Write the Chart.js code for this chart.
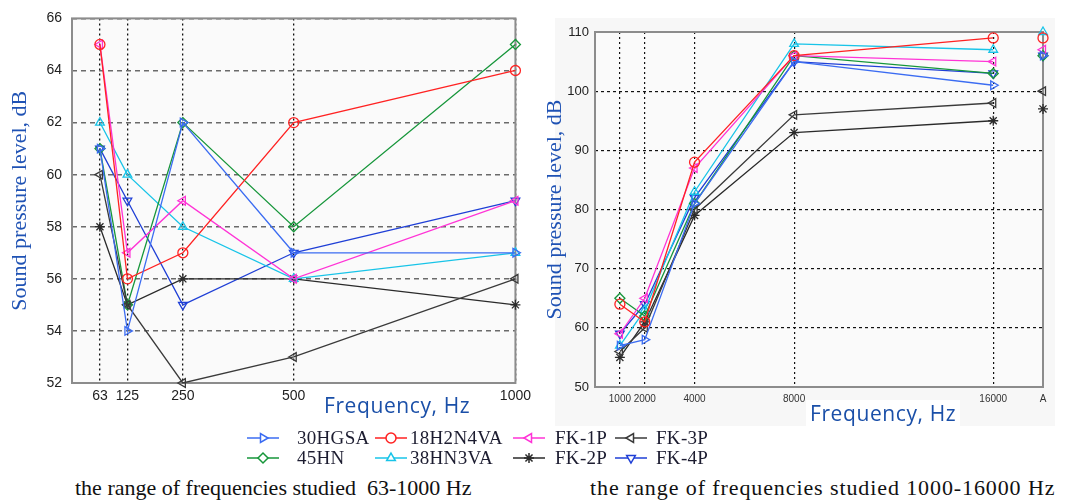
<!DOCTYPE html>
<html>
<head>
<meta charset="utf-8">
<script src="https://cdn.jsdelivr.net/npm/chart.js@4.4.0/dist/chart.umd.min.js"></script>
<style>
  body { margin: 0; width: 1067px; height: 502px; background: #fff; position: relative; overflow: hidden; font-family: "Liberation Serif", "Times New Roman", serif; }
  #lowBox { position: absolute; left: 0; top: 0; width: 536px; height: 420px; }
  #highBox { position: absolute; left: 535px; top: 0; width: 532px; height: 420px; }
  #highBg { position: absolute; left: 555px; top: 18px; width: 500px; height: 408px; background: #f7f7f7; }
  .xtitle { position: absolute; font-family: "Open Sans", "DejaVu Sans", sans-serif; font-size: 21px; letter-spacing: 0.6px; color: #1a4fa8; white-space: nowrap; background: #fff; padding: 0 4px; line-height: 26px; }
  .item { position: absolute; display: flex; align-items: center; height: 20px; font-size: 19px; color: #1c1c30; white-space: nowrap; letter-spacing: 0.3px; }
  .caption { position: absolute; top: 475px; font-size: 22px; color: #111; white-space: pre; }
</style>
</head>
<body>
<div id="highBg"></div>
<div id="lowBox"><canvas id="lowChart"></canvas></div>
<div id="highBox"><canvas id="highChart"></canvas></div>
<div class="xtitle" style="left:320px; top:392px;">Frequency, Hz</div>
<div class="xtitle" style="left:806px; top:400px;">Frequency, Hz</div>
<div id="legend"></div>
<div class="caption" style="left:75px;">the range of frequencies studied  63-1000 Hz</div>
<div class="caption" style="left:590px; letter-spacing:0.9px;">the range of frequencies studied 1000-16000 Hz</div>

<script>
// steel grades, in legend order (row by row)
var names = ['30HGSA', '18H2N4VA', 'FK-1P', 'FK-3P', '45HN', '38HN3VA', 'FK-2P', 'FK-4P'];

// octave bands, Hz
var lowFreq = [63, 125, 250, 500, 1000];
// last entry is the A-weighted total, placed on the "A" tick
var highFreq = [1000, 2000, 4000, 8000, 16000, 18000];

// sound pressure level, dB, 63-1000 Hz
var hgsa30Low   = [61, 54, 62, 57, 57];
var h2n4va18Low = [65, 56, 57, 62, 64];
var fk1pLow     = [65, 57, 59, 56, 59];
var fk3pLow     = [60, 55, 52, 53, 56];
var hn45Low     = [61, 55, 62, 58, 65];
var hn3va38Low  = [62, 60, 58, 56, 57];
var fk2pLow     = [58, 55, 56, 56, 55];
var fk4pLow     = [61, 59, 55, 57, 59];

// sound pressure level, dB, 1000-16000 Hz and A
var hgsa30High   = [57, 58, 81, 105, 101, 106];
var h2n4va18High = [64, 61, 88, 106, 109, 109];
var fk1pHigh     = [59, 65, 87, 106, 105, 107];
var fk3pHigh     = [56, 60, 80, 96, 98, 100];
var hn45High     = [65, 62, 81, 106, 103, 106];
var hn3va38High  = [57, 63, 83, 108, 107, 110];
var fk2pHigh     = [55, 61, 79, 93, 95, 97];
var fk4pHigh     = [59, 64, 82, 105, 103, 106];

var lowTicks = [63, 125, 250, 500, 1000];
var highTicks = [1000, 2000, 4000, 8000, 16000, 18000];

var lowValues = [hgsa30Low, h2n4va18Low, fk1pLow, fk3pLow, hn45Low, hn3va38Low, fk2pLow, fk4pLow];
var highValues = [hgsa30High, h2n4va18High, fk1pHigh, fk3pHigh, hn45High, hn3va38High, fk2pHigh, fk4pHigh];

var colors = ['#3b6cf2', '#ff2222', '#ff33d6', '#3a3a3a', '#16963a', '#18c4e8', '#2a2a2a', '#1f3fd6'];
var markers = [
  { style: 'triangle', rot: 90 },
  { style: 'circle', rot: 0 },
  { style: 'triangle', rot: 270 },
  { style: 'triangle', rot: 270 },
  { style: 'rectRot', rot: 0 },
  { style: 'triangle', rot: 0 },
  { style: 'star', rot: 0 },
  { style: 'triangle', rot: 180 }
];

function buildDatasets(xs, table) {
  return table.map(function (vals, i) {
    return {
      label: names[i],
      data: vals.map(function (v, k) { return { x: xs[k], y: v }; }),
      borderColor: colors[i],
      backgroundColor: 'rgba(0,0,0,0)',
      borderWidth: 1.3,
      pointStyle: markers[i].style,
      pointRotation: markers[i].rot,
      pointRadius: 5,
      pointBorderWidth: 1.3,
      pointBackgroundColor: 'rgba(0,0,0,0)',
      tension: 0,
      clip: false,
      // the A value stands alone, no line to it
      segment: {
        borderColor: function (ctx) { return ctx.p1.parsed.x > 16000 ? 'rgba(0,0,0,0)' : undefined; }
      }
    };
  });
}

var plotFrame = {
  id: 'plotFrame',
  beforeDraw: function (chart) {
    var a = chart.chartArea, ctx = chart.ctx;
    ctx.save();
    ctx.fillStyle = '#fafafa';
    ctx.fillRect(a.left, a.top, a.right - a.left, a.bottom - a.top);
    ctx.restore();
  },
  beforeDatasetsDraw: function (chart) {
    var a = chart.chartArea, ctx = chart.ctx;
    ctx.save();
    ctx.strokeStyle = '#8c8c8c';
    ctx.lineWidth = 2;
    ctx.strokeRect(a.left, a.top, a.right - a.left, a.bottom - a.top);
    ctx.restore();
  }
};

var yTitle = {
  display: true,
  text: 'Sound pressure level, dB',
  color: '#1f52b4',
  font: { family: '"Liberation Serif", serif', size: 22 },
  padding: { top: 7, bottom: 0 }
};

var lowChart = new Chart(document.getElementById('lowChart').getContext('2d'), {
  type: 'line',
  data: { datasets: buildDatasets(lowFreq, lowValues) },
  options: {
    responsive: true,
    maintainAspectRatio: false,
    animation: false,
    layout: { padding: { top: 14, right: 5, left: 0, bottom: 0 } },
    plugins: { legend: { display: false }, tooltip: { enabled: false } },
    scales: {
      x: {
        type: 'linear', min: 0, max: 1000,
        afterBuildTicks: function (s) { s.ticks = lowTicks.map(function (v) { return { value: v }; }); },
        afterFit: function (s) { s.height = 37; },
        grid: { color: '#111', lineWidth: 1.3, drawTicks: false },
        border: { display: false, dash: [2, 3] },
        ticks: {
          color: '#222', padding: 5, maxRotation: 0,
          font: { family: '"Liberation Sans", Arial', size: 14 },
          callback: function (v) { return String(v); }
        }
      },
      y: {
        min: 52, max: 66,
        afterFit: function (s) { s.width = 72; },
        grid: { color: '#6a6a6a', lineWidth: 1.5, drawTicks: false },
        border: { display: false, dash: [5, 4] },
        ticks: { stepSize: 2, color: '#222', padding: 10, font: { family: '"Liberation Sans", Arial', size: 14 } },
        title: yTitle
      }
    }
  },
  plugins: [plotFrame]
});

var highChart = new Chart(document.getElementById('highChart').getContext('2d'), {
  type: 'line',
  data: { datasets: buildDatasets(highFreq, highValues) },
  options: {
    responsive: true,
    maintainAspectRatio: false,
    animation: false,
    layout: { padding: { top: 32, right: 24, left: 0, bottom: 0 } },
    plugins: { legend: { display: false }, tooltip: { enabled: false } },
    scales: {
      x: {
        type: 'linear', min: 0, max: 18000,
        afterBuildTicks: function (s) { s.ticks = highTicks.map(function (v) { return { value: v }; }); },
        afterFit: function (s) { s.height = 33; },
        grid: { color: '#111', lineWidth: 1.2, drawTicks: false },
        border: { display: false, dash: [2, 3] },
        ticks: {
          color: '#333', padding: 6, maxRotation: 0, autoSkip: false,
          font: { family: '"Liberation Sans", Arial', size: 10 },
          callback: function (v) { return v > 16000 ? 'A' : String(v); }
        }
      },
      y: {
        min: 50, max: 110,
        afterFit: function (s) { s.width = 60; },
        grid: { color: '#111', lineWidth: 1.2, drawTicks: false },
        border: { display: false, dash: [3, 3] },
        ticks: { stepSize: 10, color: '#222', padding: 6, font: { family: '"Liberation Sans", Arial', size: 13 } },
        title: yTitle
      }
    }
  },
  plugins: [plotFrame]
});

// legend: line sample with the series marker, then the name
var legendSampleX = [247, 375, 513, 615];
var legendTextX = [297, 410, 555, 656];
var legendRowY = [428, 448];
var legend = document.getElementById('legend');
names.forEach(function (name, i) {
  var col = i % 4, row = Math.floor(i / 4);
  var c = document.createElement('canvas');
  c.width = 32; c.height = 16;
  c.style.position = 'absolute';
  c.style.left = legendSampleX[col] + 'px';
  c.style.top = (legendRowY[row] + 2) + 'px';
  var ctx = c.getContext('2d');
  ctx.strokeStyle = colors[i];
  ctx.lineWidth = 1.5;
  ctx.beginPath(); ctx.moveTo(0, 8); ctx.lineTo(32, 8); ctx.stroke();
  ctx.fillStyle = '#fff';
  Chart.helpers.drawPoint(ctx, { pointStyle: markers[i].style, rotation: markers[i].rot, radius: 5, borderWidth: 1.5 }, 16, 8);
  legend.appendChild(c);
  var t = document.createElement('div');
  t.className = 'item';
  t.style.left = legendTextX[col] + 'px';
  t.style.top = legendRowY[row] + 'px';
  t.textContent = name;
  legend.appendChild(t);
});
</script>
</body>
</html>
